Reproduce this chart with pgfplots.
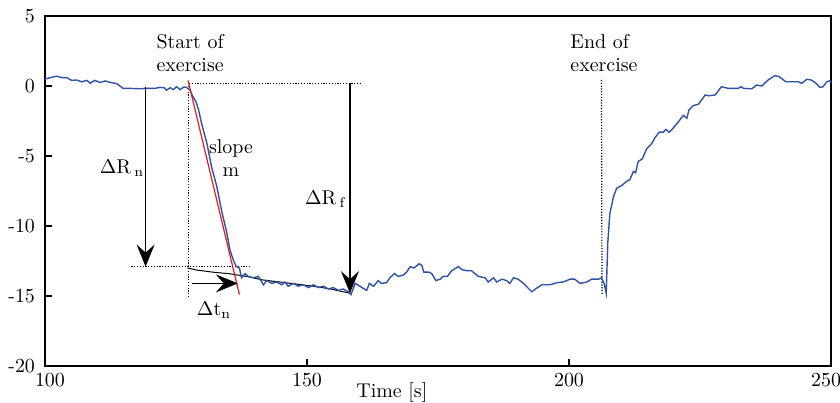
\documentclass[border=0pt]{standalone}
\usepackage{pgfplots}
\pgfplotsset{compat=1.18}
\usetikzlibrary{arrows.meta}
\definecolor{bl}{RGB}{48,82,168}
\definecolor{rd}{RGB}{235,25,25}
\pgfplotstableread{
x y
100 0.5
102.2 0.7
103.2 0.6
104.1 0.6
105.1 0.4
106.0 0.43
107.0 0.3
108.0 0.4
108.6 0.2
109.5 0.4
110.5 0.26
111.5 0.36
112.4 0.26
113.7 0.17
114.9 -0.17
116.2 -0.17
118.1 -0.2
119.1 -0.17
120.0 -0.17
121.0 -0.17
121.9 -0.1
122.7 -0.12
123.2 -0.3
123.9 -0.12
124.5 -0.26
125.1 -0.05
125.8 -0.26
126.5 -0.07
127.0 -0.1
127.7 -0.3
128.2 -0.76
128.8 -1.1
129.3 -1.7
129.9 -2.7
130.9 -4.1
131.8 -5.8
132.8 -7.2
133.7 -8.9
134.7 -10.5
135.3 -11.7
135.9 -12.4
136.5 -12.9
137.1 -13.0
137.5 -13.7
138.2 -13.4
138.8 -13.6
139.8 -13.7
140.7 -13.6
141.7 -14.2
142.3 -13.9
143.3 -14.1
144.2 -14.0
145.2 -14.2
145.8 -14.0
146.4 -14.3
147.4 -14.1
148.3 -14.3
149.3 -14.2
150.3 -14.4
151.2 -14.2
152.2 -14.4
153.1 -14.3
154.1 -14.5
155.0 -14.4
156.0 -14.6
156.9 -14.5
157.9 -14.7
158.4 -14.9
159.2 -14.1
160.1 -14.3
160.7 -14.45
161.4 -14.6
161.9 -14.1
162.7 -14.3
163.6 -13.9
164.2 -14.1
165.2 -14.05
165.8 -13.7
166.7 -13.4
167.4 -13.6
168.4 -13.5
169.0 -13.3
169.7 -12.9
170.4 -13.0
171.4 -12.7
171.9 -12.8
172.3 -13.3
173.3 -13.3
173.8 -13.4
174.6 -13.9
175.4 -13.8
176.0 -13.6
176.8 -13.6
177.6 -13.2
178.9 -12.9
179.5 -13.1
180.5 -13.2
181.4 -13.2
182.7 -13.6
184.0 -13.7
184.6 -14.0
185.6 -13.7
186.2 -14.0
187.2 -13.8
188.1 -13.9
188.7 -14.1
189.4 -13.7
190.3 -13.8
191.3 -14.1
192.9 -14.7
193.8 -14.45
194.8 -14.2
196.4 -14.2
197.7 -14.05
198.9 -14.0
200.2 -13.8
201.1 -13.8
202.1 -14.1
203.4 -14.0
204.3 -13.8
205.6 -13.8
206.2 -13.7
206.7 -14.1
207.1 -14.8
207.4 -11.2
207.8 -9.1
208.5 -7.9
209.1 -7.3
210.1 -7.1
211.0 -6.8
211.6 -6.7
212.3 -6.1
212.7 -6.2
213.2 -5.4
214.0 -5.2
214.8 -4.5
215.8 -4.1
216.4 -3.7
217.2 -3.3
218.0 -3.3
218.5 -3.1
219.1 -3.3
219.9 -3.0
220.9 -2.55
221.8 -2.1
222.5 -2.3
222.9 -1.7
223.7 -1.4
224.7 -1.3
226.0 -0.64
226.6 -0.7
227.9 -0.64
229.1 -0.05
230.4 -0.17
232.3 -0.17
232.8 -0.05
233.3 -0.17
234.9 -0.2
235.8 0.07
236.8 0
238.0 0.43
239.3 0.74
240.1 0.67
241.4 0.3
243.8 0.3
244.4 0.19
245.4 0.48
246.2 0.43
247.0 0.24
247.9 -0.1
248.5 -0.05
249.2 0.3
249.8 0.38
250 0.24
}\bluedata
\pgfplotstableread{
x y
127.2 -13.0
129.0 -13.15
132.1 -13.3
135.0 -13.4
138.5 -13.6
141.5 -13.85
144.8 -14.0
148.0 -14.15
151.2 -14.3
154.5 -14.5
158.2 -14.8
}\blackdata
\begin{document}
\begin{tikzpicture}
\begin{axis}[
  scale only axis, width=393bp, height=175bp,
  xmin=100, xmax=250, ymin=-20, ymax=5,
  xtick={100,150,200,250},
  xticklabels={\phantom{0}100,150,200,250\phantom{0}},
  ytick={-20,-15,-10,-5,0,5},
  yticklabels={-20,-15,-10,-5,0,5},
  tick pos=left,
  tick align=inside,
  major tick length=3.5bp,
  axis line style={line width=0.6bp},
  every tick/.style={black, line width=0.6bp},
  /pgf/number format/assume math mode=true,
  yticklabel style={xshift=-1.5bp},
  clip=false,
]
\coordinate (sw) at (rel axis cs:0,0);
\coordinate (ne) at (rel axis cs:1,1);
% dotted guides
\draw[line width=0.6bp, dash pattern=on 0.6bp off 0.8bp] (axis cs:127.4,0.2) -- (axis cs:127.4,-15.05);
\draw[line width=0.6bp, dash pattern=on 0.6bp off 0.8bp] (axis cs:127.5,0.19) -- (axis cs:160.4,0.19);
\draw[line width=0.6bp, dash pattern=on 0.6bp off 0.8bp] (axis cs:116.5,-12.9) -- (axis cs:139.1,-12.9);
\draw[line width=0.6bp, dash pattern=on 0.6bp off 0.8bp] (axis cs:206.2,0.43) -- (axis cs:206.3,-14.9);
% smoothed black line
\addplot[black, line width=0.5bp, no marks] table[x=x,y=y] {\blackdata};
% measured signal
\addplot[bl, line width=0.7bp, no marks] table[x=x,y=y] {\bluedata};
% slope line
\addplot[rd, line width=0.6bp, no marks] coordinates {(127.3,0.4) (137.1,-14.9)};
% arrows
\draw[line width=0.5bp, -{Stealth[length=11bp,width=9bp,inset=4bp]}] (axis cs:119.2,-0.1) -- (axis cs:119.2,-12.9);
\draw[line width=0.85bp, -{Stealth[length=11bp,width=9bp,inset=4bp]}] (axis cs:158.2,0.19) -- (axis cs:158.2,-14.8);
\draw[line width=0.5bp, -{Stealth[length=11bp,width=9bp,inset=4bp]}] (axis cs:128.0,-14.1) -- (axis cs:136.8,-14.1);
% texts
\node[inner sep=0pt, align=center] at (axis cs:127.7,2.35) {Start of\\exercise};
\node[inner sep=0pt, align=left, anchor=west] at (axis cs:200.2,2.35) {End of\\exercise};
\node[inner sep=0pt, align=center] at (axis cs:135.5,-5.15) {slope\\m};
\node[inner sep=0pt] at (axis cs:114.7,-5.9) {$\Delta$R\,$_\mathrm{n}$};
\node[inner sep=0pt] at (axis cs:153.6,-8.07) {$\Delta$R\,$_\mathrm{f}$};
\node[inner sep=0pt] at (axis cs:132.25,-16.0) {$\Delta$t$_\mathrm{n}$};
\node[inner sep=0pt] at (axis cs:166.2,-21.86) {Time [s]};
\end{axis}
\pgfresetboundingbox
\path ([shift={(-22.5bp,-18.5bp)}]sw) rectangle ([shift={(4.5bp,8bp)}]ne);
\end{tikzpicture}
\end{document}
